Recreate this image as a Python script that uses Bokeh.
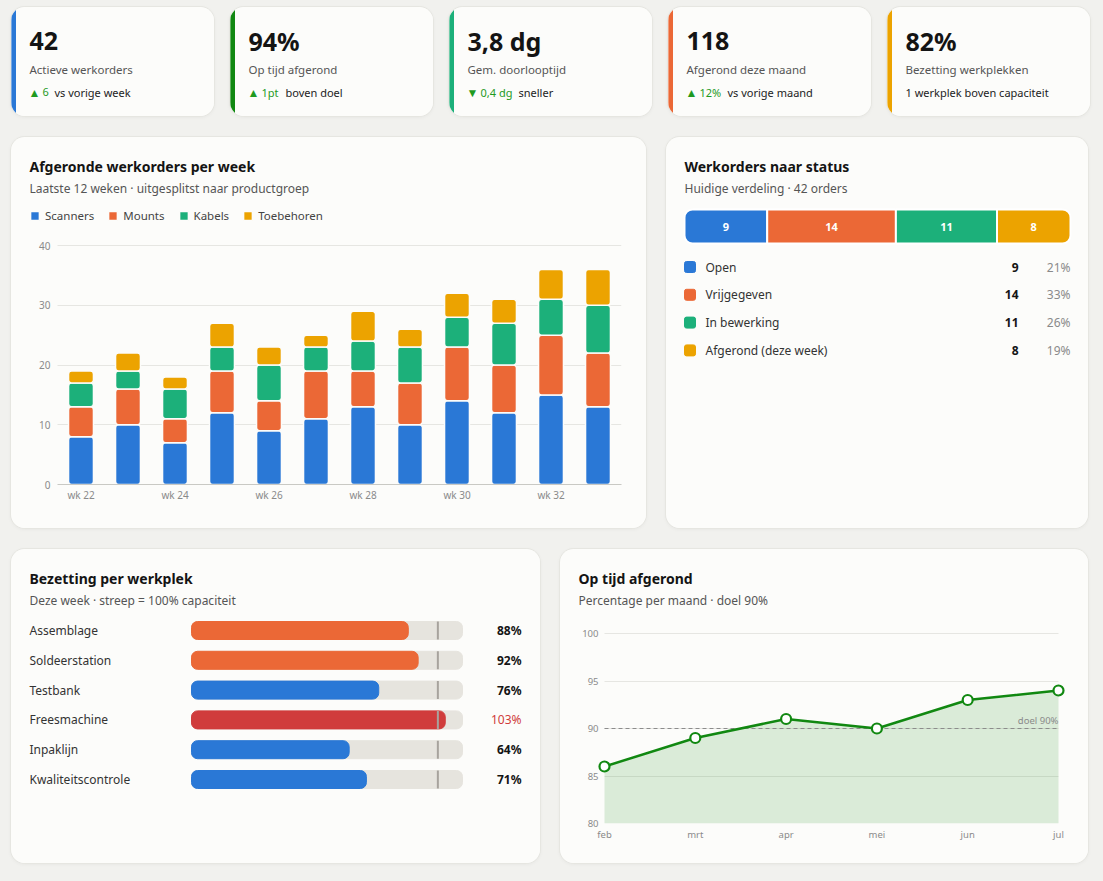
from bokeh.plotting import figure
from bokeh.layouts import row, column
from bokeh.models import (ColumnDataSource, Range1d, Label, Legend, LegendItem,
                          FixedTicker, GlobalInlineStyleSheet, Grid)
from bokeh.core.properties import value
from bokeh.embed import file_html
from bokeh.resources import INLINE

# ---------------- data ----------------
kpi_values = ["42", "94%", "3,8 dg", "118", "82%"]
kpi_labels = ["Actieve werkorders", "Op tijd afgerond", "Gem. doorlooptijd",
              "Afgerond deze maand", "Bezetting werkplekken"]
kpi_arrows = ["▲", "▲", "▼", "▲", ""]
kpi_deltas = ["6", "1pt", "0,4 dg", "12%", ""]
kpi_notes = ["vs vorige week", "boven doel", "sneller", "vs vorige maand",
             "1 werkplek boven capaciteit"]

weeks = [22, 23, 24, 25, 26, 27, 28, 29, 30, 31, 32, 33]
week_labels = ["wk 22", "wk 23", "wk 24", "wk 25", "wk 26", "wk 27",
               "wk 28", "wk 29", "wk 30", "wk 31", "wk 32", "wk 33"]
product_groups = ["Scanners", "Mounts", "Kabels", "Toebehoren"]
scanners = [8, 10, 7, 12, 9, 11, 13, 10, 14, 12, 15, 13]
mounts = [5, 6, 4, 7, 5, 8, 6, 7, 9, 8, 10, 9]
kabels = [4, 3, 5, 4, 6, 4, 5, 6, 5, 7, 6, 8]
toebehoren = [2, 3, 2, 4, 3, 2, 5, 3, 4, 4, 5, 6]
bar_ticks = [0, 10, 20, 30, 40]

statuses = ["Open", "Vrijgegeven", "In bewerking", "Afgerond (deze week)"]
status_counts = [9, 14, 11, 8]

workstations = ["Assemblage", "Soldeerstation", "Testbank", "Freesmachine",
                "Inpaklijn", "Kwaliteitscontrole"]
utilization = [88, 92, 76, 103, 64, 71]
capacity = 100
util_axis_max = 110

months = ["feb", "mrt", "apr", "mei", "jun", "jul"]
on_time = [86, 89, 91, 90, 93, 94]
on_time_target = 90
line_ticks = [80, 85, 90, 95, 100]

# ---------------- style ----------------
FONT = "Noto Sans"
PAGE_BG = "#f1f1ee"
CARD_BG = "#fcfcfa"
INK = "#141414"
MUTED = "#555555"
AXIS_TXT = "#8a8a8a"
GRID = "#e6e6e2"
BLUE, ORANGE, GREEN, AMBER, RED = "#2a78d6", "#eb6836", "#1cb07a", "#eca300", "#d03c3c"
DARK_GREEN = "#118811"
UP_GREEN = "#1f9a1f"
TRACK = "#e6e4de"
CAP_LINE = "#a7a39d"

CARD_STYLE = {"border-radius": "14px", "overflow": "hidden", "background-color": CARD_BG,
              "box-shadow": "0 0 0 1px #e6e6e1, 0 1px 4px rgba(0,0,0,0.06)"}
HAS_CROSS = "cross_bounds" in Grid.properties()


def card_fig(w, h, x_range, y_range, borders=(0, 0, 0, 0), axes=False):
    L, R, T, B = borders
    kw = dict(width=w, height=h, x_range=x_range, y_range=y_range,
              output_backend="svg", toolbar_location=None, title=None,
              background_fill_color=CARD_BG, border_fill_color=CARD_BG,
              outline_line_color=None, min_border_left=L, min_border_right=R,
              min_border_top=T, min_border_bottom=B)
    if not axes:
        kw.update(x_axis_type=None, y_axis_type=None)
    p = figure(**kw)
    p.styles = dict(CARD_STYLE)
    return p


def header(p, L, FH, title, subtitle):
    for text, ry, size, style, color in [(title, 29, "14px", "bold", INK),
                                         (subtitle, 51, "12px", "normal", MUTED)]:
        p.add_layout(Label(x=18 - L, y=FH - ry, x_units="screen", y_units="screen",
                           text=text, text_font=FONT, text_font_size=size,
                           text_font_style=style, text_color=color,
                           text_baseline="middle", text_align="left"))


def txt(p, xs, ys, texts, size="12px", color=INK, style="normal", align="left", **kw):
    p.text(x=xs, y=ys, text=texts, text_font=value(FONT), text_font_size=size,
           text_color=color, text_font_style=style, text_align=align,
           text_baseline="middle", **kw)


def style_axes(p, size):
    for ax in (p.xaxis, p.yaxis):
        ax.major_tick_line_color = None
        ax.minor_tick_line_color = None
        ax.major_tick_out = 0
        ax.minor_tick_out = 0
        ax.major_tick_in = 0
        ax.minor_tick_in = 0
        ax.major_label_text_font = FONT
        ax.major_label_text_font_size = size
        ax.major_label_text_color = AXIS_TXT
    p.yaxis.axis_line_color = None
    p.xgrid.visible = False


def hgrid(p, ticks, x0, x1):
    if HAS_CROSS:
        p.ygrid.grid_line_color = GRID
        p.ygrid.cross_bounds = (x0, x1)
    else:
        p.ygrid.visible = False
        p.segment(x0=x0, x1=x1, y0=ticks, y1=ticks, line_color=GRID, line_width=1, level="underlay")


# ---------------- KPI cards ----------------
kpi_accents = [BLUE, DARK_GREEN, GREEN, ORANGE, AMBER]
kpi_note_x = [43, 55, 69, 59, 18]
KW, KH = 203, 109
kpis = []
for i in range(len(kpi_values)):
    p = card_fig(KW, KH, Range1d(0, KW), Range1d(KH, 0))
    p.quad(left=[0], right=[4], top=[0], bottom=[KH], color=kpi_accents[i])
    txt(p, [18], [33.5], [kpi_values[i]], size="25px", style="bold")
    txt(p, [18], [61.5], [kpi_labels[i]], size="11.5px", color=MUTED)
    if kpi_arrows[i]:
        txt(p, [17], [84.5], [kpi_arrows[i]], size="12px", color=UP_GREEN)
        txt(p, [31], [84.5], [kpi_deltas[i]], size="11px", color=UP_GREEN)
    txt(p, [kpi_note_x[i]], [84.5], [kpi_notes[i]], size="11px", color="#222222")
    kpis.append(p)

# ---------------- stacked weekly bars ----------------
BW, BH = 635, 391
bL, bR, bB = 12, 25, 44
bFH = BH - bB
# plot area inside the card (pixels): x 46..610, y 108..347
bx0, bx1, by_top = 46, 610, 108
b_lo, b_hi = weeks[0] - 0.5, weeks[-1] + 0.5
bpx = (bx1 - bx0) / (b_hi - b_lo)
bpy = (bFH - by_top) / bar_ticks[-1]
bar = card_fig(BW, BH, Range1d(b_lo - (bx0 - bL) / bpx, b_hi + 0),
               Range1d(0, bar_ticks[-1] + by_top / bpy),
               borders=(bL, bR, 0, bB), axes=True)
src = ColumnDataSource(dict(week=weeks, Scanners=scanners, Mounts=mounts,
                            Kabels=kabels, Toebehoren=toebehoren))
group_colors = [BLUE, ORANGE, GREEN, AMBER]
rs = bar.vbar_stack(product_groups, x="week", width=0.53, color=group_colors, source=src,
                    line_color=CARD_BG, line_width=1.5, border_radius=3)
style_axes(bar, "10px")
bar.yaxis.ticker = FixedTicker(ticks=bar_ticks)
bar.yaxis.major_label_standoff = -(39 - bL)
bar.xaxis.ticker = FixedTicker(ticks=weeks[::2])
bar.xaxis.major_label_overrides = {w: l for w, l in zip(weeks, week_labels)}
bar.xaxis.bounds = (b_lo, b_hi)
bar.xaxis.axis_line_color = "#c9c9c4"
bar.xaxis.major_label_standoff = 3
hgrid(bar, bar_ticks[1:], b_lo, b_hi)
header(bar, bL, bFH, "Afgeronde werkorders per week",
       "Laatste 12 weken · uitgesplitst naar productgroep")
legend = Legend(items=[LegendItem(label=n, renderers=[r]) for n, r in zip(product_groups, rs)],
                orientation="horizontal", location=(18 - bL, bFH - 86),
                glyph_width=11, glyph_height=11, label_height=11, label_standoff=5,
                spacing=13, padding=0, margin=0, border_line_color=None,
                background_fill_alpha=0, label_text_font=FONT,
                label_text_font_size="11.5px", label_text_color="#444444")
bar.add_layout(legend)

# ---------------- status card ----------------
SW, SH = 422, 391
sB = bB
sFH = SH - sB
total = sum(status_counts)
unit = (SW - 36) / total
status = card_fig(SW, SH, Range1d(-18 / unit, total + 18 / unit), Range1d(sFH, 0),
                  borders=(0, 0, 0, sB))
status.extra_x_ranges = {"px": Range1d(0, SW)}
header(status, 0, sFH, "Werkorders naar status", f"Huidige verdeling · {total} orders")
status_colors = [BLUE, ORANGE, GREEN, AMBER]
lefts = [sum(status_counts[:i]) for i in range(len(status_counts))]
rights = [l + c for l, c in zip(lefts, status_counts)]
for i in range(len(status_counts)):
    if i == 0:
        rad = (8, 0, 0, 8)
    elif i == len(status_counts) - 1:
        rad = (0, 8, 8, 0)
    else:
        rad = 0
    status.hbar(y=[89], left=[lefts[i]], right=[rights[i]], height=34,
                fill_color=status_colors[i], line_color="white", line_width=2,
                border_radius=rad)
txt(status, [(l + r) / 2 for l, r in zip(lefts, rights)], [89] * len(status_counts),
    [str(c) for c in status_counts], size="11px", color="white", style="bold", align="center")
row_y = [129.5 + i * 27.8 for i in range(len(statuses))]
status.quad(left=18, right=29, top=[y - 5.5 for y in row_y], bottom=[y + 5.5 for y in row_y],
            color=status_colors, x_range_name="px", border_radius=2)
txt(status, [39] * len(statuses), row_y, statuses, size="12px", color="#333333", x_range_name="px")
txt(status, [352] * len(statuses), row_y, [str(c) for c in status_counts], size="12px",
    style="bold", align="right", x_range_name="px")
txt(status, [404] * len(statuses), row_y, [f"{round(c / total * 100)}%" for c in status_counts],
    size="12px", color=AXIS_TXT, align="right", x_range_name="px")

# ---------------- on-time line card ----------------
LW, LH = 528, 314
lL, lR, lB = 12, 20, 40
lFH = LH - lB
lx0, lx1, ly_top = 44, 498, 84
xs = list(range(len(months)))
lpx = (lx1 - lx0) / (xs[-1] - xs[0])
lpy = (lFH - ly_top) / (line_ticks[-1] - line_ticks[0])
line = card_fig(LW, LH,
                Range1d(xs[0] - (lx0 - lL) / lpx, xs[-1] + (LW - lR - lx1) / lpx),
                Range1d(line_ticks[0], line_ticks[-1] + ly_top / lpy),
                borders=(lL, lR, 0, lB), axes=True)
line.varea(x=xs, y1=line_ticks[0], y2=on_time, fill_color=DARK_GREEN, fill_alpha=0.14)
line.line(x=[xs[0], xs[-1]], y=[on_time_target] * 2, line_color="#8c8c8c",
          line_dash="4 3", line_width=1)
line.line(xs, on_time, line_color=DARK_GREEN, line_width=2.5)
line.scatter(xs, on_time, size=10, fill_color="white", line_color=DARK_GREEN, line_width=2.2)
line.add_layout(Label(x=xs[-1], y=on_time_target, text=f"doel {on_time_target}%",
                      text_align="right", text_baseline="bottom", y_offset=2,
                      text_font=FONT, text_font_size="9.5px", text_color=AXIS_TXT))
style_axes(line, "9.5px")
line.yaxis.ticker = FixedTicker(ticks=line_ticks)
line.yaxis.major_label_standoff = -(38 - lL)
line.xaxis.ticker = FixedTicker(ticks=xs)
line.xaxis.major_label_overrides = {i: m for i, m in enumerate(months)}
line.xaxis.bounds = (xs[0], xs[-1])
line.xaxis.axis_line_color = None
line.xaxis.major_label_standoff = 4
hgrid(line, line_ticks, xs[0], xs[-1])
header(line, lL, lFH, "Op tijd afgerond", f"Percentage per maand · doel {on_time_target}%")

# ---------------- utilization card ----------------
UW, UH = 529, 314
uB = lB
uFH = UH - uB
TX0, TX1 = 180, 451
uscale = (TX1 - TX0) / util_axis_max
util = card_fig(UW, UH, Range1d(-TX0 / uscale, util_axis_max + (UW - TX1) / uscale),
                Range1d(uFH, 0), borders=(0, 0, 0, uB))
util.extra_x_ranges = {"px": Range1d(0, UW)}
header(util, 0, uFH, "Bezetting per werkplek", "Deze week · streep = 100% capaciteit")
uy = [81 + i * 29.8 for i in range(len(workstations))]
ucolors = [RED if v > capacity else (ORANGE if v >= 85 else BLUE) for v in utilization]
util.hbar(y=uy, left=0, right=util_axis_max, height=18, color=TRACK, border_radius=6)
util.hbar(y=uy, left=0, right=utilization, height=18, color=ucolors, border_radius=6)
util.segment(x0=capacity, x1=capacity, y0=[y - 9 for y in uy], y1=[y + 9 for y in uy],
             line_color=CAP_LINE, line_width=2)
txt(util, [18] * len(workstations), uy, workstations, size="12px", color="#333333", x_range_name="px")
txt(util, [510] * len(workstations), uy, [f"{v}%" for v in utilization], size="12px",
    color=[RED if v > capacity else INK for v in utilization],
    style=["normal" if v > capacity else "bold" for v in utilization],
    align="right", x_range_name="px")

# ---------------- layout ----------------
row1 = row(*kpis, spacing=16)
row2 = row(bar, status, spacing=20)
row3 = row(util, line, spacing=20)
root = column(row1, row2, row3, spacing=21, margin=(7, 0, 0, 11),
              stylesheets=[GlobalInlineStyleSheet(
                  css=f"html, body {{ background: {PAGE_BG}; margin: 0; }}")])

open("out.html", "w").write(file_html(root, INLINE))
